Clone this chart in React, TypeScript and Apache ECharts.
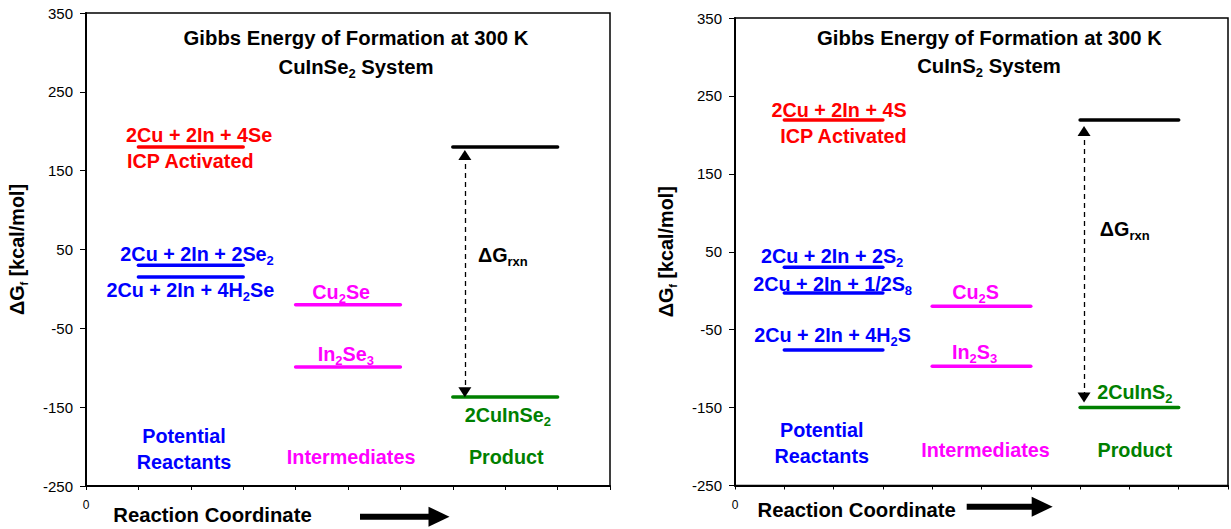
import { useEffect, useRef } from 'react';
import * as echarts from 'echarts';

const FONT = '"Liberation Sans", Arial, Helvetica, sans-serif';
const RED = '#FF0000';
const BLUE = '#0000FF';
const MAGENTA = '#FF00FF';
const GREEN = '#008000';
const BLACK = '#000000';

// Reaction-coordinate axis and energy axis
const xMin = 0;
const xMax = 10;
const xStep = 1;
const yMin = -250;
const yMax = 350;
const yStep = 100;
const xTickLabels = ['0'];

// stages along the reaction coordinate: potential reactants, intermediates, product
const stageStart = [1, 4, 7];
const stageWidth = 2;

// CuInSe2 system
const seSpecies = ['2Cu + 2In + 4Se (ICP activated)', '2Cu + 2In + 2Se2', '2Cu + 2In + 4H2Se', 'Cu2Se', 'In2Se3', 'ICP reactant level', '2CuInSe2'];
const seStage = [0, 0, 0, 1, 1, 2, 2];
const seEnergy = [180, 30, 15, -20, -99, 180, -137];
const seColor = [RED, BLUE, BLUE, MAGENTA, MAGENTA, BLACK, GREEN];

// CuInS2 system
const sSpecies = ['2Cu + 2In + 4S (ICP activated)', '2Cu + 2In + 2S2', '2Cu + 2In + 1/2S8', '2Cu + 2In + 4H2S', 'Cu2S', 'In2S3', 'ICP reactant level', '2CuInS2'];
const sStage = [0, 0, 0, 0, 1, 1, 2, 2];
const sEnergy = [219, 30, -3, -76, -20, -97, 219, -150];
const sColor = [RED, BLUE, BLUE, BLUE, MAGENTA, MAGENTA, BLACK, GREEN];

// ΔGrxn arrows (x on reaction coordinate, end energies)
const seArrow = { x: 7.23, from: 170, to: -131 };
const sArrow = { x: 7.08, from: 205, to: -137 };

// annotation anchors (data coordinates)
const seLabels = [
  { text: '2Cu + 2In + 4Se', x: 2.16, y: 195, color: RED },
  { text: 'ICP Activated', x: 1.99, y: 162, color: RED },
  { text: '2Cu + 2In + 2Se_{2}', x: 2.12, y: 44, color: BLUE },
  { text: '2Cu + 2In + 4H_{2}Se', x: 1.99, y: -1, color: BLUE },
  { text: 'Potential\nReactants', x: 1.87, y: -203, color: BLUE },
  { text: 'Cu_{2}Se', x: 4.87, y: -4, color: MAGENTA },
  { text: 'In_{2}Se_{3}', x: 4.96, y: -82, color: MAGENTA },
  { text: 'Intermediates', x: 5.06, y: -213, color: MAGENTA },
  { text: '2CuInSe_{2}', x: 8.05, y: -160, color: GREEN },
  { text: 'Product', x: 8.02, y: -213, color: GREEN },
  { text: 'ΔG_{rxn}', x: 7.48, y: 43, color: BLACK, align: 'left' },
];

const sLabels = [
  { text: '2Cu + 2In + 4S', x: 2.11, y: 232, color: RED },
  { text: 'ICP Activated', x: 2.2, y: 198, color: RED },
  { text: '2Cu + 2In + 2S_{2}', x: 1.97, y: 45, color: BLUE },
  { text: '2Cu + 2In + 1/2S_{8}', x: 1.98, y: 9, color: BLUE },
  { text: '2Cu + 2In + 4H_{2}S', x: 1.98, y: -57, color: BLUE },
  { text: 'Potential\nReactants', x: 1.76, y: -196, color: BLUE },
  { text: 'Cu_{2}S', x: 4.88, y: -2, color: MAGENTA },
  { text: 'In_{2}S_{3}', x: 4.86, y: -79, color: MAGENTA },
  { text: 'Intermediates', x: 5.08, y: -205, color: MAGENTA },
  { text: '2CuInS_{2}', x: 8.11, y: -130, color: GREEN },
  { text: 'Product', x: 8.11, y: -205, color: GREEN },
  { text: 'ΔG_{rxn}', x: 7.4, y: 79, color: BLACK, align: 'left' },
];

const MAIN = 19.8;
const TITLE = 20.3;
const SUB = 13;

function toRich(text: string): string {
  return text
    .split('\n')
    .map((line) =>
      line
        .split(/(_\{[^}]*\})/)
        .filter((p) => p.length > 0)
        .map((p) => (p.startsWith('_{') ? `{s|${p.slice(2, -1)}}` : `{m|${p}}`))
        .join('')
    )
    .join('\n');
}

function richStyles(color: string, size = MAIN) {
  return {
    m: { fontSize: size, fontWeight: 'bold', fontFamily: FONT, color, lineHeight: 26 },
    s: { fontSize: SUB, fontWeight: 'bold', fontFamily: FONT, color, lineHeight: 16, verticalAlign: 'bottom' },
  };
}

function levelSeries(species: string[], stage: number[], energy: number[], color: string[], axis: number) {
  return species.map((name, i) => ({
    type: 'line',
    name,
    xAxisIndex: axis,
    yAxisIndex: axis,
    data: [
      [stageStart[stage[i]], energy[i]],
      [stageStart[stage[i]] + stageWidth, energy[i]],
    ],
    symbol: 'none',
    silent: true,
    z: 3,
    lineStyle: { color: color[i], width: 3.5, cap: 'round' },
  }));
}

function arrowSeries(arrow: { x: number; from: number; to: number }, axis: number) {
  return {
    type: 'line',
    xAxisIndex: axis,
    yAxisIndex: axis,
    data: [],
    silent: true,
    markLine: {
      silent: true,
      symbol: ['triangle', 'triangle'],
      symbolSize: [13, 10],
      label: { show: false },
      lineStyle: { color: BLACK, width: 1.3, type: [5, 4] },
      data: [[{ coord: [arrow.x, arrow.from] }, { coord: [arrow.x, arrow.to] }]],
    },
  };
}

function labelSeries(labels: any[], axis: number) {
  return {
    type: 'scatter',
    xAxisIndex: axis,
    yAxisIndex: axis,
    symbolSize: 0,
    silent: true,
    z: 5,
    itemStyle: { opacity: 1 },
    data: labels.map((l) => ({
      value: [l.x, l.y],
      label: {
        show: true,
        position: 'inside',
        align: l.align || 'center',
        verticalAlign: 'middle',
        formatter: toRich(l.text),
        color: l.color,
        opacity: 1,
        rich: richStyles(l.color),
      },
    })),
  };
}

function xAxisOpt(grid: number) {
  return {
    type: 'value',
    gridIndex: grid,
    min: xMin,
    max: xMax,
    interval: xStep,
    splitLine: { show: false },
    axisLine: { show: true, onZero: false, lineStyle: { color: BLACK, width: 2 } },
    axisTick: { show: true, length: 4, lineStyle: { color: BLACK, width: 1 } },
    axisLabel: {
      formatter: (v: number) => (v === xMin ? xTickLabels[0] : ''),
      margin: 13,
      fontSize: 12,
      color: BLACK,
      fontFamily: FONT,
    },
  };
}

function yAxisOpt(grid: number) {
  return {
    type: 'value',
    gridIndex: grid,
    min: yMin,
    max: yMax,
    interval: yStep,
    splitLine: { show: false },
    axisLine: { show: true, onZero: false, lineStyle: { color: BLACK, width: 2 } },
    axisTick: { show: true, length: 6, lineStyle: { color: BLACK, width: 1 } },
    axisLabel: { fontSize: 15, color: BLACK, margin: 13, fontFamily: FONT },
    name: '{m|ΔG}{f|f}{m| [kcal/mol]}',
    nameLocation: 'middle',
    nameRotate: 90,
    nameGap: 57,
    nameTextStyle: {
      rich: {
        m: { fontSize: MAIN, fontWeight: 'bold', fontFamily: FONT, color: BLACK, lineHeight: 24 },
        f: { fontSize: 11, fontWeight: 'bold', fontFamily: FONT, color: BLACK, lineHeight: 14, verticalAlign: 'bottom' },
      },
    },
  };
}

function textEl(text: string, x: number, y: number) {
  return {
    type: 'text',
    x,
    y,
    silent: true,
    style: {
      text: toRich(text),
      rich: richStyles(BLACK, TITLE),
      fill: BLACK,
      align: 'center',
      verticalAlign: 'middle',
    },
  };
}

function bigArrow(x0: number, x1: number, y: number) {
  const head = 21;
  return [
    { type: 'rect', silent: true, shape: { x: x0, y: y - 3, width: x1 - head - x0 + 1, height: 6 }, style: { fill: BLACK } },
    {
      type: 'polygon',
      silent: true,
      shape: { points: [[x1 - head, y - 10], [x1, y], [x1 - head, y + 10]] },
      style: { fill: BLACK },
    },
  ];
}

export default function App() {
  const ref = useRef<HTMLDivElement>(null);
  useEffect(() => {
    document.body.style.margin = '0';
    if (!ref.current) return;
    const chart = echarts.init(ref.current, null, { renderer: 'svg' });
    chart.setOption({
      animation: false,
      backgroundColor: '#FFFFFF',
      grid: [
        { left: 86, top: 13, width: 524, height: 473, show: true, borderColor: BLACK, borderWidth: 1.5, backgroundColor: 'transparent' },
        { left: 735, top: 18, width: 500, height: 467.5, show: true, borderColor: BLACK, borderWidth: 1.5, backgroundColor: 'transparent' },
      ],
      xAxis: [xAxisOpt(0), xAxisOpt(1)],
      yAxis: [yAxisOpt(0), yAxisOpt(1)],
      series: [
        ...levelSeries(seSpecies, seStage, seEnergy, seColor, 0),
        ...levelSeries(sSpecies, sStage, sEnergy, sColor, 1),
        arrowSeries(seArrow, 0),
        arrowSeries(sArrow, 1),
        labelSeries(seLabels, 0),
        labelSeries(sLabels, 1),
      ],
      graphic: [
        textEl('Gibbs Energy of Formation at 300 K', 356, 38),
        textEl('CuInSe_{2} System', 356, 67),
        textEl('Gibbs Energy of Formation at 300 K', 989.5, 38),
        textEl('CuInS_{2} System', 989, 66),
        textEl('Reaction Coordinate', 212.5, 515),
        textEl('Reaction Coordinate', 856.7, 510),
        ...bigArrow(360, 449.5, 516.7),
        ...bigArrow(966.7, 1052.7, 506.7),
      ],
    });
    return () => chart.dispose();
  }, []);
  return <div ref={ref} style={{ width: 1231, height: 529 }} />;
}
